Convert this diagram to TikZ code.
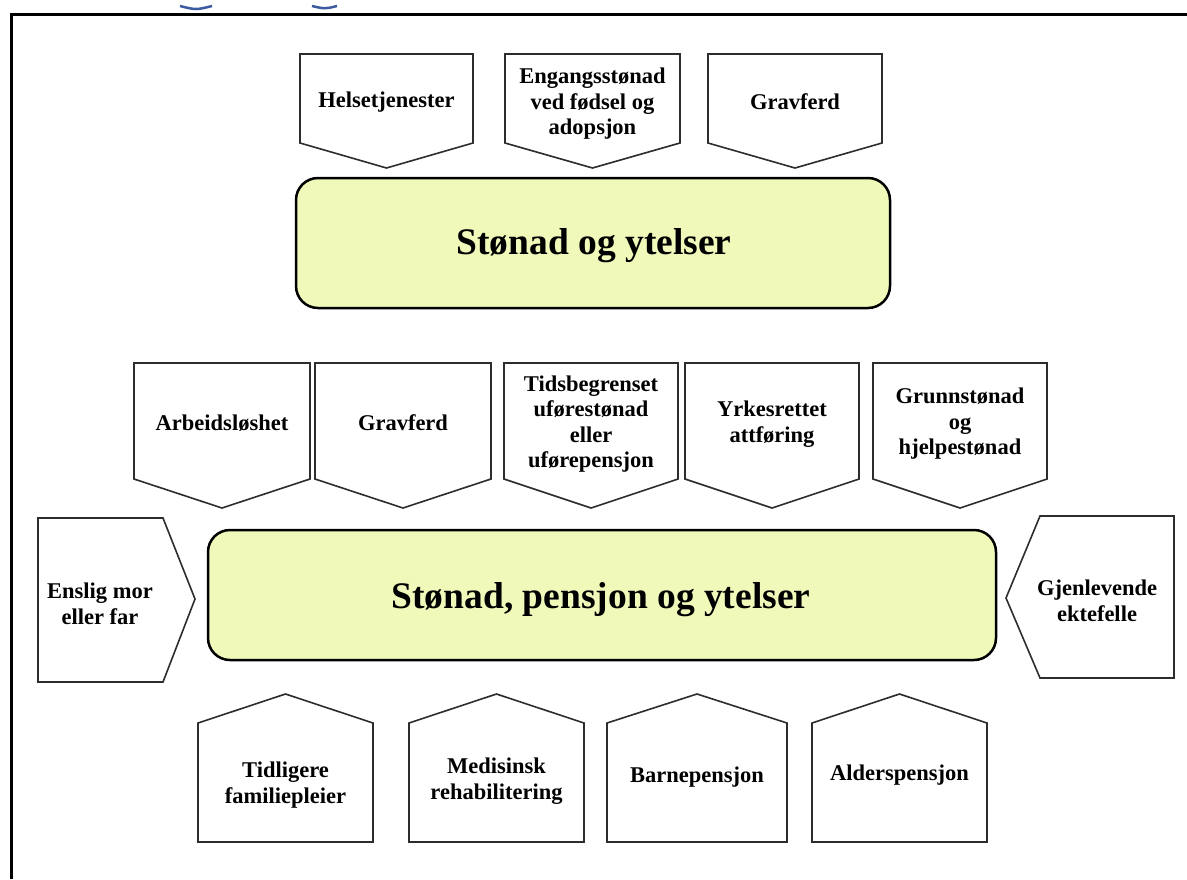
\documentclass[tikz,border=0pt]{standalone}
\usepackage{fontspec}
\setmainfont{Liberation Serif}
\definecolor{boxfill}{RGB}{240,249,185}
\definecolor{pentline}{RGB}{45,45,45}
\definecolor{arcblue}{RGB}{60,90,160}
\newcommand\dpent[7]{% name, x1, x2, ytop, yshoulder, ytip, text-y
  \draw[pent] (#2,#4) -- (#3,#4) -- (#3,#5) -- ({(#2+#3)/2},#6) -- (#2,#5) -- cycle;
  \coordinate (#1) at ({(#2+#3)/2},#7);}
\newcommand\upent[7]{% name, x1, x2, ypeak, yshoulder, ybottom, text-y
  \draw[pent] (#2,#5) -- ({(#2+#3)/2},#4) -- (#3,#5) -- (#3,#6) -- (#2,#6) -- cycle;
  \coordinate (#1) at ({(#2+#3)/2},#7);}
\begin{document}
\begin{tikzpicture}[x=1pt,y=-1pt,
  pent/.style={draw=pentline,line width=1.6pt,line join=miter,fill=white},
  lbl/.style={font=\fontsize{22.5}{25.5}\selectfont\bfseries,align=center,inner sep=0pt,text=black},
  bigbox/.style={draw=black,line width=2.5pt,fill=boxfill,rounded corners=22pt,inner sep=0pt},
  biglbl/.style={font=\fontsize{37.5}{42}\selectfont\bfseries,inner sep=0pt,text=black}]
\useasboundingbox (0,0) rectangle (1187,879);
\fill[white] (0,0) rectangle (1187,879);
% frame
\draw[line width=3pt] (11,879) -- (11,14) -- (1187,14);
% blue arc fragments
\draw[arcblue,line width=2.5pt] (180,6) .. controls (196,10) .. (212,6);
\draw[arcblue,line width=2.5pt] (312,6) .. controls (325,9) .. (337,6);
% top row
\dpent{t1}{300}{473}{54}{143}{168}{102}
\dpent{t2}{505}{680}{54}{143}{168}{104}
\dpent{t3}{708}{882}{54}{143}{168}{102}
\node[lbl] (helse) at (t1) {Helsetjenester};
\node[lbl] (engang) at (t2) {Engangsstønad\\ved fødsel og\\adopsjon};
\node[lbl] (grav1) at (t3) {Gravferd};
% top box
\node[bigbox,minimum width=594pt,minimum height=130pt] (box1) at (593,243) {};
\node[biglbl] (box1txt) at (594,246) {Stønad og ytelser};
% middle row
\dpent{m1}{134}{310}{363}{479}{508}{423}
\dpent{m2}{315}{491}{363}{479}{508}{423}
\dpent{m3}{504}{678}{363}{479}{508}{424}
\dpent{m4}{685}{859}{363}{479}{508}{424}
\dpent{m5}{873}{1047}{363}{479}{508}{424}
\node[lbl] (arb) at (m1) {Arbeidsløshet};
\node[lbl] (grav2) at (m2) {Gravferd};
\node[lbl] (tids) at (m3) {Tidsbegrenset\\uførestønad\\eller\\uførepensjon};
\node[lbl] (yrk) at (m4) {Yrkesrettet\\attføring};
\node[lbl] (grunn) at (m5) {Grunnstønad\\og\\hjelpestønad};
% side shapes
\draw[pent] (38,518) -- (163,518) -- (195,599) -- (163,682) -- (38,682) -- cycle;
\node[lbl] (enslig) at (100,604) {Enslig mor\\eller far};
\draw[pent] (1040,516) -- (1174,516) -- (1174,678) -- (1040,678) -- (1006,598) -- cycle;
\node[lbl] (gjen) at (1097,601) {Gjenlevende\\ektefelle};
% second box
\node[bigbox,minimum width=788pt,minimum height=130pt] (box2) at (602,595) {};
\node[biglbl] (box2txt) at (601,600) {Stønad, pensjon og ytelser};
% bottom row
\upent{b1}{198}{373}{694}{723}{842}{785}
\upent{b2}{409}{584}{694}{723}{842}{781}
\upent{b3}{607}{787}{694}{723}{842}{777}
\upent{b4}{812}{987}{694}{723}{842}{775}
\node[lbl] (tidl) at (b1) {Tidligere\\familiepleier};
\node[lbl] (med) at (b2) {Medisinsk\\rehabilitering};
\node[lbl] (barn) at (b3) {Barnepensjon};
\node[lbl] (alder) at (b4) {Alderspensjon};
\end{tikzpicture}
\end{document}
